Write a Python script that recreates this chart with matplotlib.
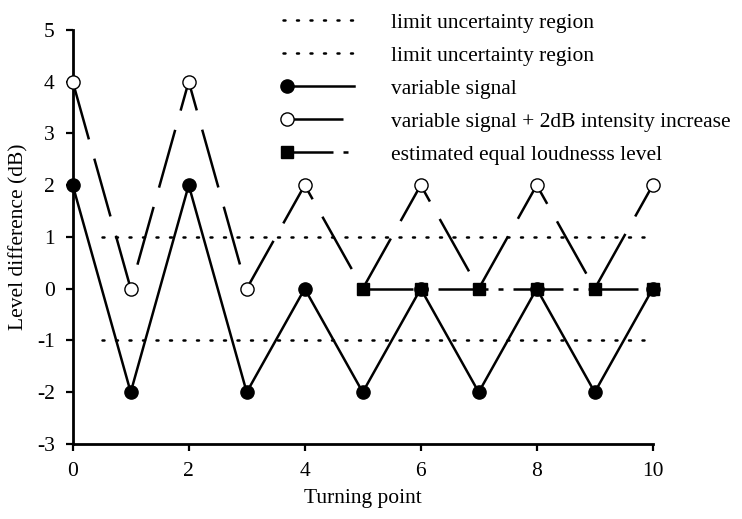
import numpy as np
import matplotlib.pyplot as plt
from matplotlib.legend_handler import HandlerLine2DCompound

plt.rcParams["font.family"] = ["Liberation Serif", "DejaVu Serif"]
plt.rcParams["font.size"] = 15.5
plt.rcParams["axes.unicode_minus"] = False

turning = np.arange(0, 11)
variable = [2, -2, 2, -2, 0, -2, 0, -2, 0, -2, 0]
variable_plus = [4, 0, 4, 0, 2, 0, 2, 0, 2, 0, 2]
equal_x = [5, 6, 7, 8, 9, 10]
equal_level = [0, 0, 0, 0, 0, 0]
limit_x = [0.5, 10]
upper_limit = [1, 1]
lower_limit = [-1, -1]


class MarkerAtStart(HandlerLine2DCompound):
    # put the legend marker at the left end of the handle line
    def get_xdata(self, legend, xdescent, ydescent, width, height, fontsize):
        xdata, _ = super().get_xdata(legend, xdescent, ydescent, width, height, fontsize)
        return xdata, [xdata[0] + 3]


fig = plt.figure(figsize=(7.42, 5.19), dpi=100)
ax = fig.add_axes([0.098, 0.1445, 0.7817, 0.798])

lw = 1.8
dotted, = ax.plot(limit_x, upper_limit, color="black", lw=lw,
                  linestyle=(0, (0.8, 4.6)), dash_capstyle="round")
ax.plot(limit_x, lower_limit, color="black", lw=lw,
        linestyle=(0, (0.8, 4.6)), dash_capstyle="round")

open_line, = ax.plot(turning, variable_plus, color="black", lw=lw,
                     linestyle=(0, (24, 8)),
                     marker="o", markersize=9.5, markerfacecolor="white",
                     markeredgecolor="black", markeredgewidth=1.0,
                     markevery=[0, 1, 2, 3, 4, 6, 8, 10],
                     clip_on=False, zorder=3)

filled_line, = ax.plot(turning, variable, color="black", lw=lw,
                       marker="o", markersize=9.5, clip_on=False, zorder=4)

square_line, = ax.plot(equal_x, equal_level, color="black", lw=lw,
                       linestyle=(0, (20, 4, 2, 4)),
                       marker="s", markersize=9, clip_on=False, zorder=5)

ax.set_xlim(0, 10)
ax.set_ylim(-3, 5)
ax.set_xticks(np.arange(0, 11, 2))
ax.set_yticks(np.arange(-3, 6, 1))
for side in ["top", "right"]:
    ax.spines[side].set_visible(False)
for side in ["left", "bottom"]:
    ax.spines[side].set_linewidth(2.0)
ax.tick_params(direction="out", length=5, width=1.6, pad=8)

ax.set_xlabel("Turning point", labelpad=6)
ax.set_ylabel("Level difference (dB)", labelpad=6)

handles = [dotted, dotted, filled_line, open_line, square_line]
labels = ["limit uncertainty region",
          "limit uncertainty region",
          "variable signal",
          "variable signal + 2dB intensity increase",
          "estimated equal loudnesss level"]
fig.legend(handles, labels, loc="upper left",
           bbox_to_anchor=(272 / 742, 1 - 2 / 519),
           frameon=False, numpoints=1, handlelength=3.3,
           handletextpad=1.75, labelspacing=0.6, borderpad=0,
           handler_map={open_line: MarkerAtStart(),
                        filled_line: MarkerAtStart(),
                        square_line: MarkerAtStart()})

fig.savefig("out.png", dpi=100)
